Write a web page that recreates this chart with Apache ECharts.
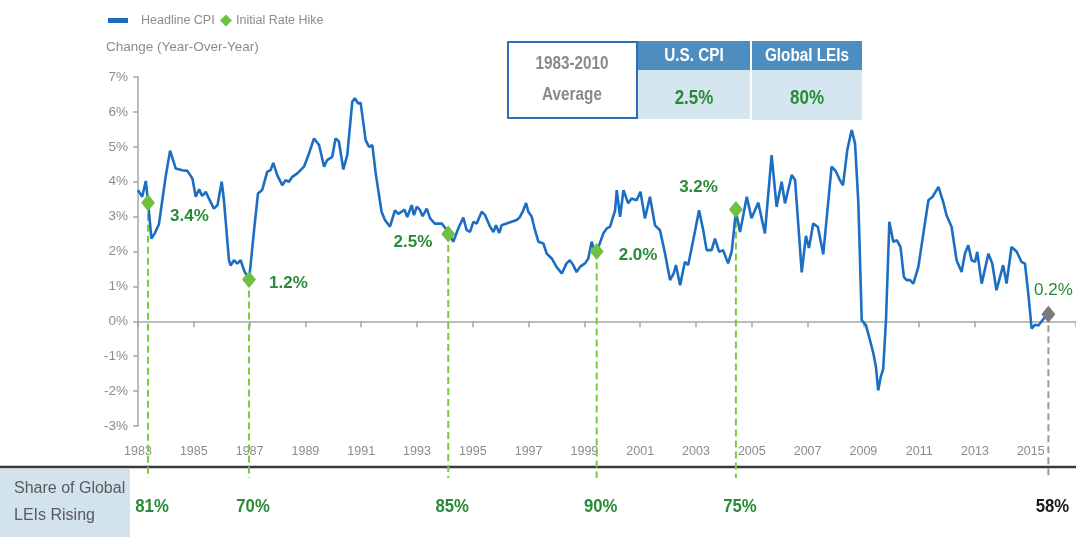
<!DOCTYPE html>
<html>
<head>
<meta charset="utf-8">
<script src="https://cdn.jsdelivr.net/npm/echarts@6/dist/echarts.min.js"></script>
<style>
html,body{margin:0;padding:0;background:#fff;}
#chart{width:1076px;height:537px;}
</style>
</head>
<body>
<div id="chart"></div>
<script>
// ---- data ----
const cpiDates = [1983.00,1983.15,1983.28,1983.36,1983.48,1983.60,1983.75,1983.99,1984.15,1984.35,1984.59,1984.77,1984.95,1985.07,1985.19,1985.30,1985.43,1985.54,1985.72,1985.85,1986.00,1986.08,1986.26,1986.32,1986.44,1986.56,1986.68,1986.80,1986.98,1987.16,1987.30,1987.45,1987.63,1987.75,1987.85,1987.99,1988.17,1988.29,1988.41,1988.53,1988.71,1988.95,1989.13,1989.31,1989.49,1989.67,1989.78,1989.96,1990.08,1990.20,1990.36,1990.50,1990.68,1990.77,1990.89,1990.98,1991.16,1991.28,1991.40,1991.52,1991.73,1991.85,1991.92,1992.03,1992.21,1992.33,1992.45,1992.55,1992.65,1992.81,1992.89,1992.99,1993.10,1993.20,1993.35,1993.47,1993.64,1993.89,1994.12,1994.30,1994.48,1994.66,1994.78,1994.90,1995.02,1995.14,1995.32,1995.44,1995.62,1995.74,1995.83,1995.95,1996.03,1996.21,1996.39,1996.57,1996.69,1996.81,1996.91,1996.99,1997.11,1997.23,1997.35,1997.53,1997.65,1997.83,1998.00,1998.19,1998.36,1998.48,1998.60,1998.72,1998.84,1999.02,1999.14,1999.26,1999.35,1999.44,1999.68,1999.80,1999.92,2000.10,2000.16,2000.28,2000.40,2000.57,2000.69,2000.87,2001.01,2001.17,2001.35,2001.53,2001.71,2001.89,2002.07,2002.20,2002.28,2002.43,2002.60,2002.72,2002.90,2003.11,2003.26,2003.38,2003.56,2003.68,2003.83,2003.97,2004.15,2004.28,2004.43,2004.58,2004.82,2004.99,2005.23,2005.47,2005.71,2005.89,2006.07,2006.19,2006.43,2006.55,2006.79,2006.94,2007.05,2007.20,2007.37,2007.56,2007.86,2008.01,2008.16,2008.27,2008.42,2008.58,2008.70,2008.82,2008.94,2009.09,2009.24,2009.36,2009.45,2009.53,2009.62,2009.71,2009.81,2009.93,2010.07,2010.20,2010.33,2010.45,2010.55,2010.67,2010.79,2010.97,2011.15,2011.33,2011.48,2011.69,2011.86,2011.98,2012.16,2012.34,2012.52,2012.64,2012.76,2012.88,2013.00,2013.08,2013.24,2013.48,2013.62,2013.77,2014.01,2014.13,2014.31,2014.49,2014.67,2014.79,2014.91,2015.03,2015.15,2015.27,2015.39,2015.63];
const cpiValues = [3.76,3.57,4.02,3.42,2.37,2.52,2.78,4.14,4.89,4.38,4.33,4.31,4.09,3.57,3.78,3.59,3.71,3.52,3.23,3.33,4.00,3.47,1.75,1.60,1.75,1.65,1.75,1.46,1.18,2.61,3.66,3.76,4.28,4.33,4.54,4.19,3.90,4.04,4.00,4.14,4.24,4.43,4.81,5.24,5.05,4.43,4.62,4.71,5.24,5.15,4.35,4.76,6.29,6.39,6.24,6.26,5.19,5.00,5.05,4.24,3.14,2.90,2.95,2.71,3.18,3.08,3.14,3.20,2.99,3.33,3.04,3.28,3.20,3.01,3.23,2.95,2.80,2.80,2.56,2.28,2.66,2.97,2.61,2.56,2.85,2.80,3.14,3.04,2.71,2.56,2.75,2.53,2.75,2.80,2.85,2.90,2.99,3.18,3.39,3.14,3.00,2.61,2.28,2.23,1.94,1.80,1.56,1.37,1.66,1.75,1.61,1.41,1.56,1.66,1.80,2.28,2.04,1.99,2.52,2.66,2.71,3.18,3.76,2.99,3.76,3.38,3.52,3.47,3.71,2.95,3.57,2.75,2.61,1.94,1.18,1.37,1.61,1.03,1.70,1.61,2.32,3.18,2.61,2.04,2.04,2.37,1.99,2.04,1.66,2.00,3.14,2.56,3.57,2.95,3.40,2.52,4.76,3.28,4.00,3.38,4.19,4.05,1.40,2.45,2.10,2.80,2.70,1.92,4.43,4.30,4.04,3.90,4.90,5.48,5.10,3.38,0.03,-0.11,-0.55,-0.93,-1.31,-1.98,-1.60,-1.36,0.03,2.85,2.28,2.32,2.13,1.27,1.18,1.18,1.08,1.56,2.52,3.47,3.57,3.85,3.42,3.04,2.71,1.75,1.41,1.94,2.18,1.75,1.70,1.99,1.08,1.94,1.65,0.89,1.61,1.08,2.13,2.00,1.70,1.65,0.79,-0.21,-0.10,-0.12,0.00,0.24];

const hikeDates = [1983.36, 1986.98, 1994.12, 1999.44, 2004.43];
const hikeValues = [3.4, 1.2, 2.5, 2.0, 3.2];
const hikeLeiShare = [81, 70, 85, 90, 75];

const latestDate = 2015.63;
const latestValue = 0.2;
const latestLeiShare = 58;

const yTicks = [-3, -2, -1, 0, 1, 2, 3, 4, 5, 6, 7];
const xTickYears = [1983,1985,1987,1989,1991,1993,1995,1997,1999,2001,2003,2005,2007,2009,2011,2013,2015];

const tableRowLabel = ['1983-2010', 'Average'];
const tableHeaders = ['U.S. CPI', 'Global LEIs'];
const tableValues = ['2.5%', '80%'];

// ---- presentation ----
const FONT = "'Liberation Sans Narrow','Arial Narrow','Liberation Sans',sans-serif";
const GRAY = '#8c8c8c';
const BLUE = '#1b6ec2';
const GREEN_TXT = '#2a8a36';
const GREEN_MK = '#6fc043';
const GREEN_DASH = '#7acb3c';

const cpiData = cpiDates.map((d, i) => [d, cpiValues[i]]);
const hikeData = hikeDates.map((d, i) => [d, hikeValues[i], hikeLeiShare[i]]);
const dropData = hikeData.concat([[latestDate, latestValue, latestLeiShare]]);

// label placement for each hike marker (layout only)
const hikeLabelLayout = [
  {position: 'right', offset: [10, 14]},
  {position: 'right', offset: [8, 4]},
  {position: 'left', offset: [-4, 8]},
  {position: 'right', offset: [10, 4]},
  {position: 'left', offset: [-6, -22]}
];

const BAND_Y = 467;
const DROP_END = 478;
const SHARE_Y = 507;

const chart = echarts.init(document.getElementById('chart'), null, {renderer: 'canvas'});

function tableText(x, y, text, fill, size) {
  return {type: 'text', x: x, y: y, scaleX: 0.85,
          style: {text: text, textAlign: 'center', textVerticalAlign: 'middle', fill: fill, font: 'bold ' + size + 'px ' + FONT}};
}

const option = {
  animation: false,
  backgroundColor: '#ffffff',
  textStyle: {fontFamily: FONT},
  title: {
    text: 'Change (Year-Over-Year)',
    left: 106, top: 40, padding: 0,
    textStyle: {fontFamily: FONT, fontSize: 13.5, fontWeight: 'normal', color: GRAY}
  },
  legend: [
    {
      left: 108, top: 14, padding: 0, itemWidth: 20, itemHeight: 5, icon: 'rect',
      data: ['Headline CPI'], selectedMode: false,
      textStyle: {fontFamily: FONT, fontSize: 12.5, color: GRAY, padding: [0, 0, 0, 8]}
    },
    {
      left: 220, top: 14, padding: 0, itemWidth: 12, itemHeight: 12, icon: 'diamond',
      data: ['Initial Rate Hike'], selectedMode: false,
      textStyle: {fontFamily: FONT, fontSize: 12.5, color: GRAY, padding: [0, 0, 0, -1]}
    }
  ],
  grid: {left: 138, right: 0, top: 77, bottom: 111, containLabel: false},
  xAxis: [
    {
      type: 'value', min: 1983, max: 2016.62, interval: 2,
      axisLine: {show: true, onZero: true, lineStyle: {color: '#a6a6a6', width: 1.5}},
      axisTick: {show: true, length: 6, lineStyle: {color: '#a6a6a6', width: 1.5}},
      axisLabel: {show: false},
      splitLine: {show: false}
    },
    {
      type: 'value', min: 1983, max: 2016.62, interval: 2, position: 'bottom',
      axisLine: {show: false, onZero: false},
      axisTick: {show: false},
      splitLine: {show: false},
      axisLabel: {
        show: true, margin: 19, color: GRAY, fontFamily: FONT, fontSize: 12.5,
        showMaxLabel: false,
        formatter: v => (xTickYears.indexOf(Math.round(v)) >= 0 && Math.abs(v - Math.round(v)) < 1e-6) ? String(Math.round(v)) : ''
      }
    }
  ],
  yAxis: {
    type: 'value', min: yTicks[0], max: yTicks[yTicks.length - 1], interval: 1,
    axisLine: {show: true, lineStyle: {color: '#a6a6a6', width: 1.5}},
    axisTick: {show: true, length: 5, lineStyle: {color: '#a6a6a6', width: 1.5}},
    axisLabel: {color: GRAY, fontFamily: FONT, fontSize: 13.5, margin: 10, formatter: '{value}%'},
    splitLine: {show: false}
  },
  series: [
    {
      name: 'Headline CPI', type: 'line', data: cpiData, xAxisIndex: 0,
      showSymbol: false, symbol: 'none', smooth: false,
      lineStyle: {color: BLUE, width: 2.6}, itemStyle: {color: BLUE}, z: 2
    },
    {
      name: 'drops', type: 'custom', xAxisIndex: 0, data: dropData, z: 1, silent: true,
      clip: false,
      renderItem: function (params, api) {
        const p = api.coord([api.value(0), api.value(1)]);
        const last = params.dataIndex === dropData.length - 1;
        return {
          type: 'group',
          children: [
            {type: 'line', shape: {x1: p[0], y1: p[1], x2: p[0], y2: DROP_END},
             style: {stroke: last ? '#9a9a9a' : GREEN_DASH, lineWidth: 2, lineDash: [7, 4]}},
            {type: 'text', x: p[0] + 4, y: SHARE_Y, scaleX: 0.88,
             style: {text: api.value(2) + '%', textAlign: 'center', textVerticalAlign: 'middle',
                     fill: last ? '#1a1a1a' : GREEN_TXT, font: 'bold 19px ' + FONT}}
          ]
        };
      }
    },
    {
      name: 'Initial Rate Hike', type: 'scatter', xAxisIndex: 0,
      symbol: 'diamond', symbolSize: [14, 17],
      itemStyle: {color: GREEN_MK, opacity: 1},
      data: hikeData.map((d, i) => ({
        value: d,
        label: {show: true, position: hikeLabelLayout[i].position, offset: hikeLabelLayout[i].offset,
                formatter: d[1].toFixed(1) + '%', color: GREEN_TXT, opacity: 1, textBorderWidth: 0,
                fontFamily: FONT, fontSize: 17, fontWeight: 'bold'}
      })),
      z: 4
    },
    {
      name: 'Latest', type: 'scatter', xAxisIndex: 0,
      symbol: 'diamond', symbolSize: [14, 17],
      itemStyle: {color: '#7a7a7a', opacity: 1},
      data: [{value: [latestDate, latestValue],
              label: {show: true, position: 'top', offset: [5, -2], formatter: latestValue.toFixed(1) + '%',
                      color: GREEN_TXT, opacity: 1, textBorderWidth: 0, fontFamily: FONT, fontSize: 17, fontWeight: 'normal'}}],
      z: 4
    }
  ],
  graphic: [
    // bottom band
    {type: 'rect', left: 0, top: BAND_Y + 2, shape: {width: 130, height: 537 - BAND_Y - 2}, style: {fill: '#d2e3ee'}, z: 0},
    {type: 'line', shape: {x1: 0, y1: BAND_Y, x2: 1076, y2: BAND_Y}, style: {stroke: '#3a3a3a', lineWidth: 2.5}, z: 0},
    {type: 'text', left: 14, top: 481, style: {text: 'Share of Global', fill: '#5a5a5a', font: '16px ' + FONT}},
    {type: 'text', left: 14, top: 508, style: {text: 'LEIs Rising', fill: '#5a5a5a', font: '16px ' + FONT}},
    // table
    {type: 'rect', shape: {x: 508, y: 42, width: 129, height: 76}, style: {fill: '#ffffff', stroke: '#2d6fb6', lineWidth: 2}},
    tableText(572, 64, tableRowLabel[0], '#8a8a8a', 18),
    tableText(572, 95, tableRowLabel[1], '#8a8a8a', 18),
    {type: 'rect', shape: {x: 638, y: 41, width: 112, height: 29}, style: {fill: '#4d8dc0'}},
    {type: 'rect', shape: {x: 638, y: 70, width: 112, height: 49}, style: {fill: '#d6e6f0'}},
    {type: 'rect', shape: {x: 752, y: 41, width: 110, height: 29}, style: {fill: '#4d8dc0'}},
    {type: 'rect', shape: {x: 752, y: 70, width: 110, height: 50}, style: {fill: '#d6e6f0'}},
    tableText(694, 56, tableHeaders[0], '#ffffff', 18),
    tableText(807, 56, tableHeaders[1], '#ffffff', 18),
    tableText(694, 98, tableValues[0], GREEN_TXT, 20),
    tableText(807, 98, tableValues[1], GREEN_TXT, 20)
  ]
};

chart.setOption(option);
</script>
</body>
</html>
